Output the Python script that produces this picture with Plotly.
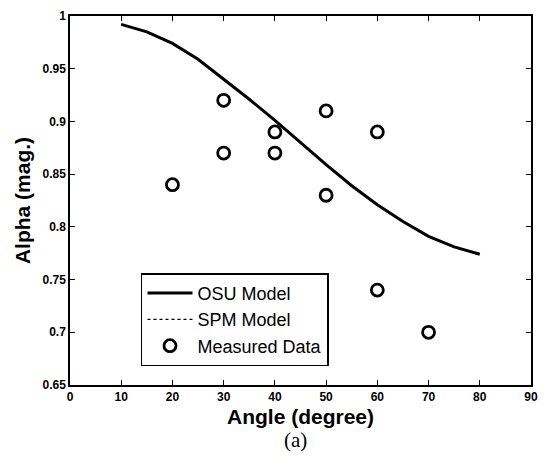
import plotly.graph_objects as go

model_angle = [10, 15, 20, 25, 30, 35, 40, 45, 50, 55, 60, 65, 70, 75, 80]
osu_alpha = [0.992, 0.985, 0.974, 0.959, 0.940, 0.921, 0.901, 0.880, 0.859, 0.839, 0.821, 0.805, 0.791, 0.781, 0.774]
spm_alpha = osu_alpha
meas_angle = [20, 30, 30, 40, 40, 50, 50, 60, 60, 70]
meas_alpha = [0.84, 0.92, 0.87, 0.89, 0.87, 0.91, 0.83, 0.89, 0.74, 0.70]
x_ticks = [0, 10, 20, 30, 40, 50, 60, 70, 80, 90]
x_labels = ["0", "10", "20", "30", "40", "50", "60", "70", "80", "90"]
y_ticks = [0.65, 0.7, 0.75, 0.8, 0.85, 0.9, 0.95, 1]
y_labels = ["0.65", "0.7", "0.75", "0.8", "0.85", "0.9", "0.95", "1"]

fig = go.Figure()
fig.add_trace(go.Scatter(x=model_angle, y=osu_alpha, mode="lines", name="OSU Model",
                         line=dict(color="black", width=3)))
fig.add_trace(go.Scatter(x=model_angle, y=spm_alpha, mode="lines", name="SPM Model",
                         line=dict(color="black", width=1.2, dash="dot")))
fig.add_trace(go.Scatter(x=meas_angle, y=meas_alpha, mode="markers", name="Measured Data",
                         marker=dict(symbol="circle-open", size=12, color="black",
                                     line=dict(width=2.8, color="black"))))

axis_common = dict(showline=True, linecolor="black", linewidth=1.5, mirror="ticks",
                   ticks="inside", ticklen=5, tickcolor="black", showgrid=False, zeroline=False,
                   tickfont=dict(family="Liberation Sans", size=12, color="black"))

fig.update_xaxes(range=[0, 90], tickvals=x_ticks, ticktext=["<b>%s</b>" % t for t in x_labels],
                 title=dict(text="<b>Angle (degree)</b>", font=dict(family="Liberation Sans", size=21, color="black"),
                            standoff=6),
                 **axis_common)
fig.update_yaxes(range=[0.65, 1], tickvals=y_ticks, ticktext=["<b>%s</b>" % t for t in y_labels],
                 title=dict(text="<b>Alpha (mag.)</b>", font=dict(family="Liberation Sans", size=21, color="black"),
                            standoff=6),
                 **axis_common)

fig.add_annotation(text="(a)", xref="paper", yref="paper", x=0.49, y=-0.11, yanchor="top",
                   showarrow=False, font=dict(family="Liberation Serif", size=21, color="black"))

fig.update_layout(
    width=547, height=470,
    margin=dict(l=70, r=9, t=15, b=85),
    paper_bgcolor="white", plot_bgcolor="white",
    showlegend=True,
    legend=dict(x=0.154, y=0.303, xanchor="left", yanchor="top",
                bordercolor="black", borderwidth=1.5, bgcolor="white",
                font=dict(family="Liberation Sans", size=18, color="black"),
                tracegroupgap=0, itemwidth=45),
)

fig.write_html("out.html")
